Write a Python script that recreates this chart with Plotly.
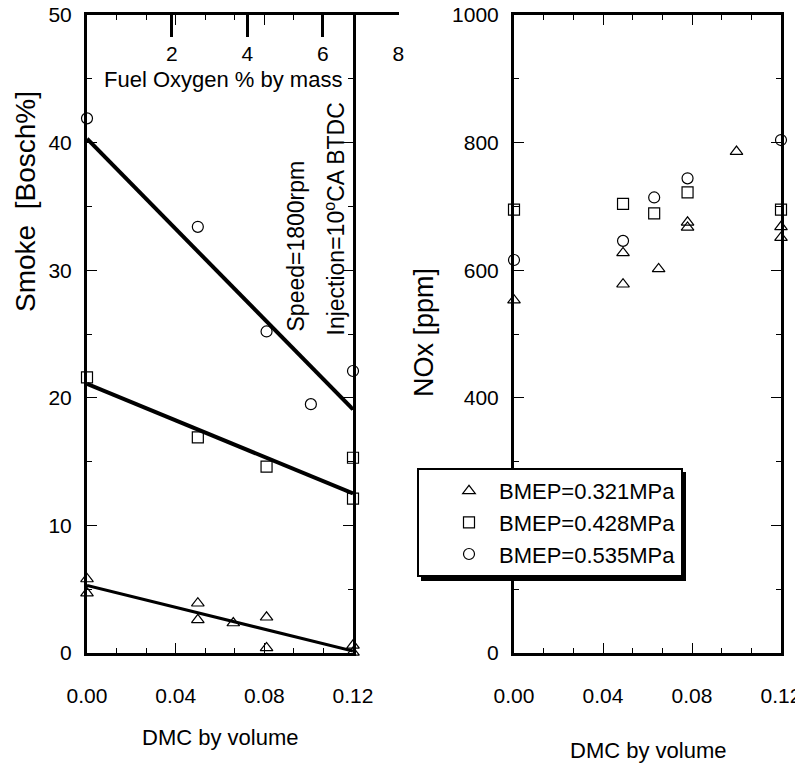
import plotly.graph_objects as go

# --- data ---
# left panel: smoke vs DMC fraction
smoke_tri_x = [0.0, 0.0, 0.05, 0.05, 0.066, 0.081, 0.081, 0.102, 0.12, 0.12]
smoke_tri_y = [5.8, 4.7, 3.9, 2.6, 2.35, 2.8, 0.4, -0.1, 0.6, 0.05]
smoke_sq_x = [0.0, 0.05, 0.081, 0.12, 0.12]
smoke_sq_y = [21.6, 16.9, 14.6, 15.3, 12.1]
smoke_ci_x = [0.0, 0.05, 0.081, 0.101, 0.12]
smoke_ci_y = [41.9, 33.4, 25.2, 19.5, 22.1]

# fitted lines (end points as drawn)
fit_x = [0.0, 0.12]
fit_tri_y = [5.3, 0.15]
fit_sq_y = [21.1, 12.5]
fit_ci_y = [40.3, 19.1]

# right panel: NOx vs DMC fraction
nox_tri_x = [0.0, 0.049, 0.049, 0.065, 0.078, 0.078, 0.1, 0.12, 0.12]
nox_tri_y = [553, 627, 578, 602, 675, 667, 786, 668, 651]
nox_sq_x = [0.0, 0.049, 0.063, 0.078, 0.12]
nox_sq_y = [695, 704, 689, 722, 695]
nox_ci_x = [0.0, 0.049, 0.063, 0.078, 0.12]
nox_ci_y = [616, 646, 714, 744, 804]

series_names = ["BMEP=0.321MPa", "BMEP=0.428MPa", "BMEP=0.535MPa"]
symbols = ["triangle-up-open", "square-open", "circle-open"]

oxygen_ticks = [2, 4, 6, 8]
dmc_ticks = [0.0, 0.04, 0.08, 0.12]

# page has an 8px body margin, so the figure is shifted by OFF
OFF = 8
W, H = 803 - OFF, 764 - OFF
FONT = "Liberation Sans, Arial, sans-serif"


def px_x(p):
    return (p - OFF) / W


def px_y(p):
    return 1 - (p - OFF) / H


fig = go.Figure()

left = [(smoke_tri_x, smoke_tri_y), (smoke_sq_x, smoke_sq_y), (smoke_ci_x, smoke_ci_y)]
right = [(nox_tri_x, nox_tri_y), (nox_sq_x, nox_sq_y), (nox_ci_x, nox_ci_y)]
fits = [(fit_tri_y, 3), (fit_sq_y, 4), (fit_ci_y, 4)]

for (fy, lw) in fits:
    fig.add_trace(go.Scatter(x=fit_x, y=fy, mode="lines", showlegend=False,
                             line=dict(color="black", width=lw),
                             xaxis="x", yaxis="y", cliponaxis=False))

for i, (xs, ys) in enumerate(left):
    fig.add_trace(go.Scatter(x=xs, y=ys, mode="markers", name=series_names[i],
                             legendgroup=series_names[i], showlegend=False,
                             marker=dict(symbol=symbols[i], size=11, color="black",
                                         line=dict(width=1.2, color="black")),
                             xaxis="x", yaxis="y", cliponaxis=False))

for i, (xs, ys) in enumerate(right):
    fig.add_trace(go.Scatter(x=xs, y=ys, mode="markers", name=series_names[i],
                             legendgroup=series_names[i], showlegend=True,
                             marker=dict(symbol=symbols[i], size=11, color="black",
                                         line=dict(width=1.2, color="black")),
                             xaxis="x2", yaxis="y2", cliponaxis=False))

# empty trace so the fuel-oxygen top axis gets drawn
fig.add_trace(go.Scatter(x=oxygen_ticks, y=[None] * len(oxygen_ticks), mode="markers",
                         showlegend=False, hoverinfo="skip", xaxis="x3", yaxis="y3"))

tickfont = dict(family=FONT, size=21, color="black")
ydom = [px_y(653), px_y(15)]

common_x = dict(range=[0, 0.12], tickvals=dmc_ticks, tickformat=".2f",
                ticks="inside", ticklen=10, tickwidth=1.2, tickcolor="black",
                minor=dict(dtick=0.04 / 3, tick0=0, ticks="inside", ticklen=5,
                           tickwidth=1, tickcolor="black"),
                showline=True, linewidth=3, linecolor="black", mirror="ticks",
                showgrid=False, zeroline=False, tickfont=tickfont,
                ticklabelstandoff=22, ticklabeloverflow="allow", automargin=False)

common_y = dict(domain=ydom, ticks="inside", ticklen=10, tickwidth=1.2,
                tickcolor="black", showline=True, linewidth=3, linecolor="black",
                mirror="ticks", showgrid=False, zeroline=False, tickfont=tickfont,
                ticklabelstandoff=8, ticklabeloverflow="allow", automargin=False)

fig.update_layout(
    width=W, height=H,
    margin=dict(l=0, r=0, t=0, b=0, autoexpand=False),
    paper_bgcolor="white", plot_bgcolor="rgba(0,0,0,0)",
    font=dict(family=FONT, color="black"),
    xaxis=dict(common_x, domain=[px_x(87), px_x(353)], anchor="y"),
    yaxis=dict(common_y, anchor="x", range=[0, 50], dtick=10,
               minor=dict(dtick=5, ticks="inside", ticklen=5, tickwidth=1,
                          tickcolor="black")),
    xaxis2=dict(common_x, domain=[px_x(514), px_x(781)], anchor="y2"),
    yaxis2=dict(common_y, anchor="x2", range=[0, 1000], dtick=200,
                minor=dict(dtick=100, ticks="inside", ticklen=5, tickwidth=1,
                           tickcolor="black")),
    xaxis3=dict(anchor="y3", side="top",
                domain=[px_x(87), px_x(399)], range=[-0.25, 8.02],
                tickvals=oxygen_ticks, ticks="inside", ticklen=22, tickwidth=3,
                tickcolor="black", ticklabelposition="inside",
                ticklabelstandoff=11, ticklabeloverflow="allow",
                showline=True, linewidth=3, linecolor="black",
                showgrid=False, zeroline=False, tickfont=tickfont,
                automargin=False),
    yaxis3=dict(domain=ydom, anchor="x3", range=[0, 1], visible=False),
    showlegend=True,
    legend=dict(x=px_x(417), y=px_y(468), xanchor="left", yanchor="top",
                bgcolor="white", bordercolor="black", borderwidth=2,
                font=dict(family=FONT, size=22, color="black"),
                itemwidth=50, indentation=20, tracegroupgap=0),
)

# drop shadow behind the legend box
fig.add_shape(type="rect", xref="paper", yref="paper",
              x0=px_x(421), x1=px_x(686), y0=px_y(581), y1=px_y(472),
              fillcolor="black", line=dict(width=0), layer="above")

ann = dict(xref="paper", yref="paper", showarrow=False, xanchor="center",
           yanchor="middle", font=dict(family=FONT, size=22, color="black"))
fig.add_annotation(ann, text="DMC by volume", x=px_x(220), y=px_y(737))
fig.add_annotation(ann, text="DMC by volume", x=px_x(648), y=px_y(750))
fig.add_annotation(ann, text="Fuel Oxygen % by mass", x=px_x(223), y=px_y(79))
fig.add_annotation(dict(ann, font=dict(family=FONT, size=28, color="black")),
                   text="Smoke  [Bosch%]", textangle=-90, x=px_x(25), y=px_y(202))
fig.add_annotation(dict(ann, font=dict(family=FONT, size=27, color="black")),
                   text="NOx [ppm]", textangle=-90, x=px_x(424), y=px_y(333))
fig.add_annotation(dict(ann, font=dict(family=FONT, size=23, color="black")),
                   text="Speed=1800rpm", textangle=-90,
                   x=px_x(296), y=px_y(334), yanchor="bottom")
fig.add_annotation(dict(ann, font=dict(family=FONT, size=23, color="black")),
                   text="Injection=10<sup>o</sup>CA BTDC", textangle=-90,
                   x=px_x(334), y=px_y(338), yanchor="bottom")

fig.write_html("out.html")
